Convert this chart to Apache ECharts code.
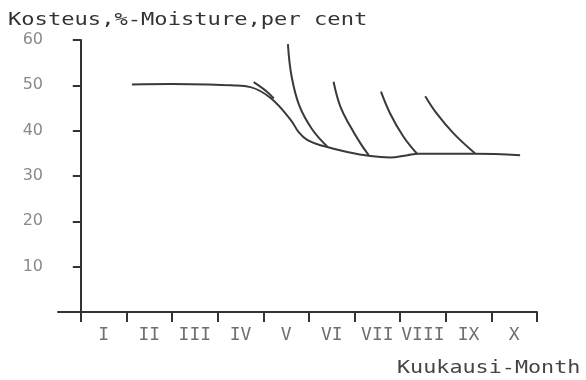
<!DOCTYPE html>
<html><head><meta charset="utf-8">
<script src="https://cdn.jsdelivr.net/npm/echarts@6/dist/echarts.min.js"></script>
<style>html,body{margin:0;padding:0;background:#fff}#c{width:586px;height:380px}</style>
</head><body><div id="c"></div>
<script>
// x = months elapsed from the start of month I (tick 0), y = moisture %
var monthLabels = ['I','II','III','IV','V','VI','VII','VIII','IX','X'];
var yTicks = [10, 20, 30, 40, 50, 60];
var mainCurve = [[1.12,50.2],[2.0,50.3],[2.8,50.2],[3.3,50.0],[3.72,49.6],[4.16,47.2],[4.6,42.4],[4.78,39.6],[4.97,37.9],[5.32,36.6],[5.84,35.3],[6.35,34.4],[6.78,34.1],[7.16,34.6],[7.4,34.9],[8.64,34.9],[9.63,34.6]];
var branchIV = [[3.79,50.7],[4.08,48.6],[4.23,47.1]];
var branchV = [[4.54,59.1],[4.62,52.0],[4.79,45.5],[5.07,40.3],[5.40,36.5]];
var branchVI = [[5.54,50.8],[5.69,45.3],[5.91,40.9],[6.13,37.2],[6.31,34.6]];
var branchVII = [[6.58,48.6],[6.78,43.8],[7.07,38.7],[7.37,34.9]];
var branchVIII = [[7.55,47.6],[7.80,43.8],[8.17,39.4],[8.64,35.0]];

var tickVals = []; for (var i = 0; i <= monthLabels.length; i++) tickVals.push(i);
var labelVals = monthLabels.map(function(_, i){ return i + 0.5; });

var mono = '"DejaVu Sans Mono", monospace';
function curve(d, s){ return {type:'line', data:d, smooth:s, symbol:'none', lineStyle:{color:'#3a3a3a', width:2}, silent:true}; }

var chart = echarts.init(document.getElementById('c'), null, {renderer:'canvas'});
chart.setOption({
  animation:false,
  backgroundColor:'#fff',
  grid:{left:58, right:49, top:40, bottom:68},
  xAxis:{type:'value', min:-0.5, max:10,
    axisLine:{lineStyle:{color:'#333', width:2}},
    axisTick:{show:true, length:10, lineStyle:{color:'#333', width:2}, customValues:tickVals},
    axisLabel:{customValues:labelVals, margin:14, color:'#707070', fontFamily:mono, fontSize:18,
      formatter:function(v){ return monthLabels[Math.floor(v)] || ''; }},
    splitLine:{show:false}},
  yAxis:{type:'value', min:0, max:60, interval:10,
    axisLine:{show:true, lineStyle:{color:'#333', width:2}},
    axisTick:{show:true, length:8, lineStyle:{color:'#333', width:2}, customValues:yTicks},
    axisLabel:{customValues:yTicks, margin:15, color:'#8a8a8a', fontFamily:'"DejaVu Sans", sans-serif', fontSize:16},
    splitLine:{show:false}},
  graphic:[
    {type:'text', x:8, y:21, scaleX:1.3, style:{text:'Kosteus,%-Moisture,per cent', x:0, y:0, verticalAlign:'middle', align:'left', font:'17px "DejaVu Sans Mono", monospace', fill:'#333'}},
    {type:'text', x:397, y:369, scaleX:1.28, style:{text:'Kuukausi-Month', x:0, y:0, verticalAlign:'middle', align:'left', font:'17px "DejaVu Sans Mono", monospace', fill:'#444'}}
  ],
  series:[curve(mainCurve,0.4), curve(branchIV,0.4), curve(branchV,0.4), curve(branchVI,0.4), curve(branchVII,0.4), curve(branchVIII,0.4)]
});
</script></body></html>
